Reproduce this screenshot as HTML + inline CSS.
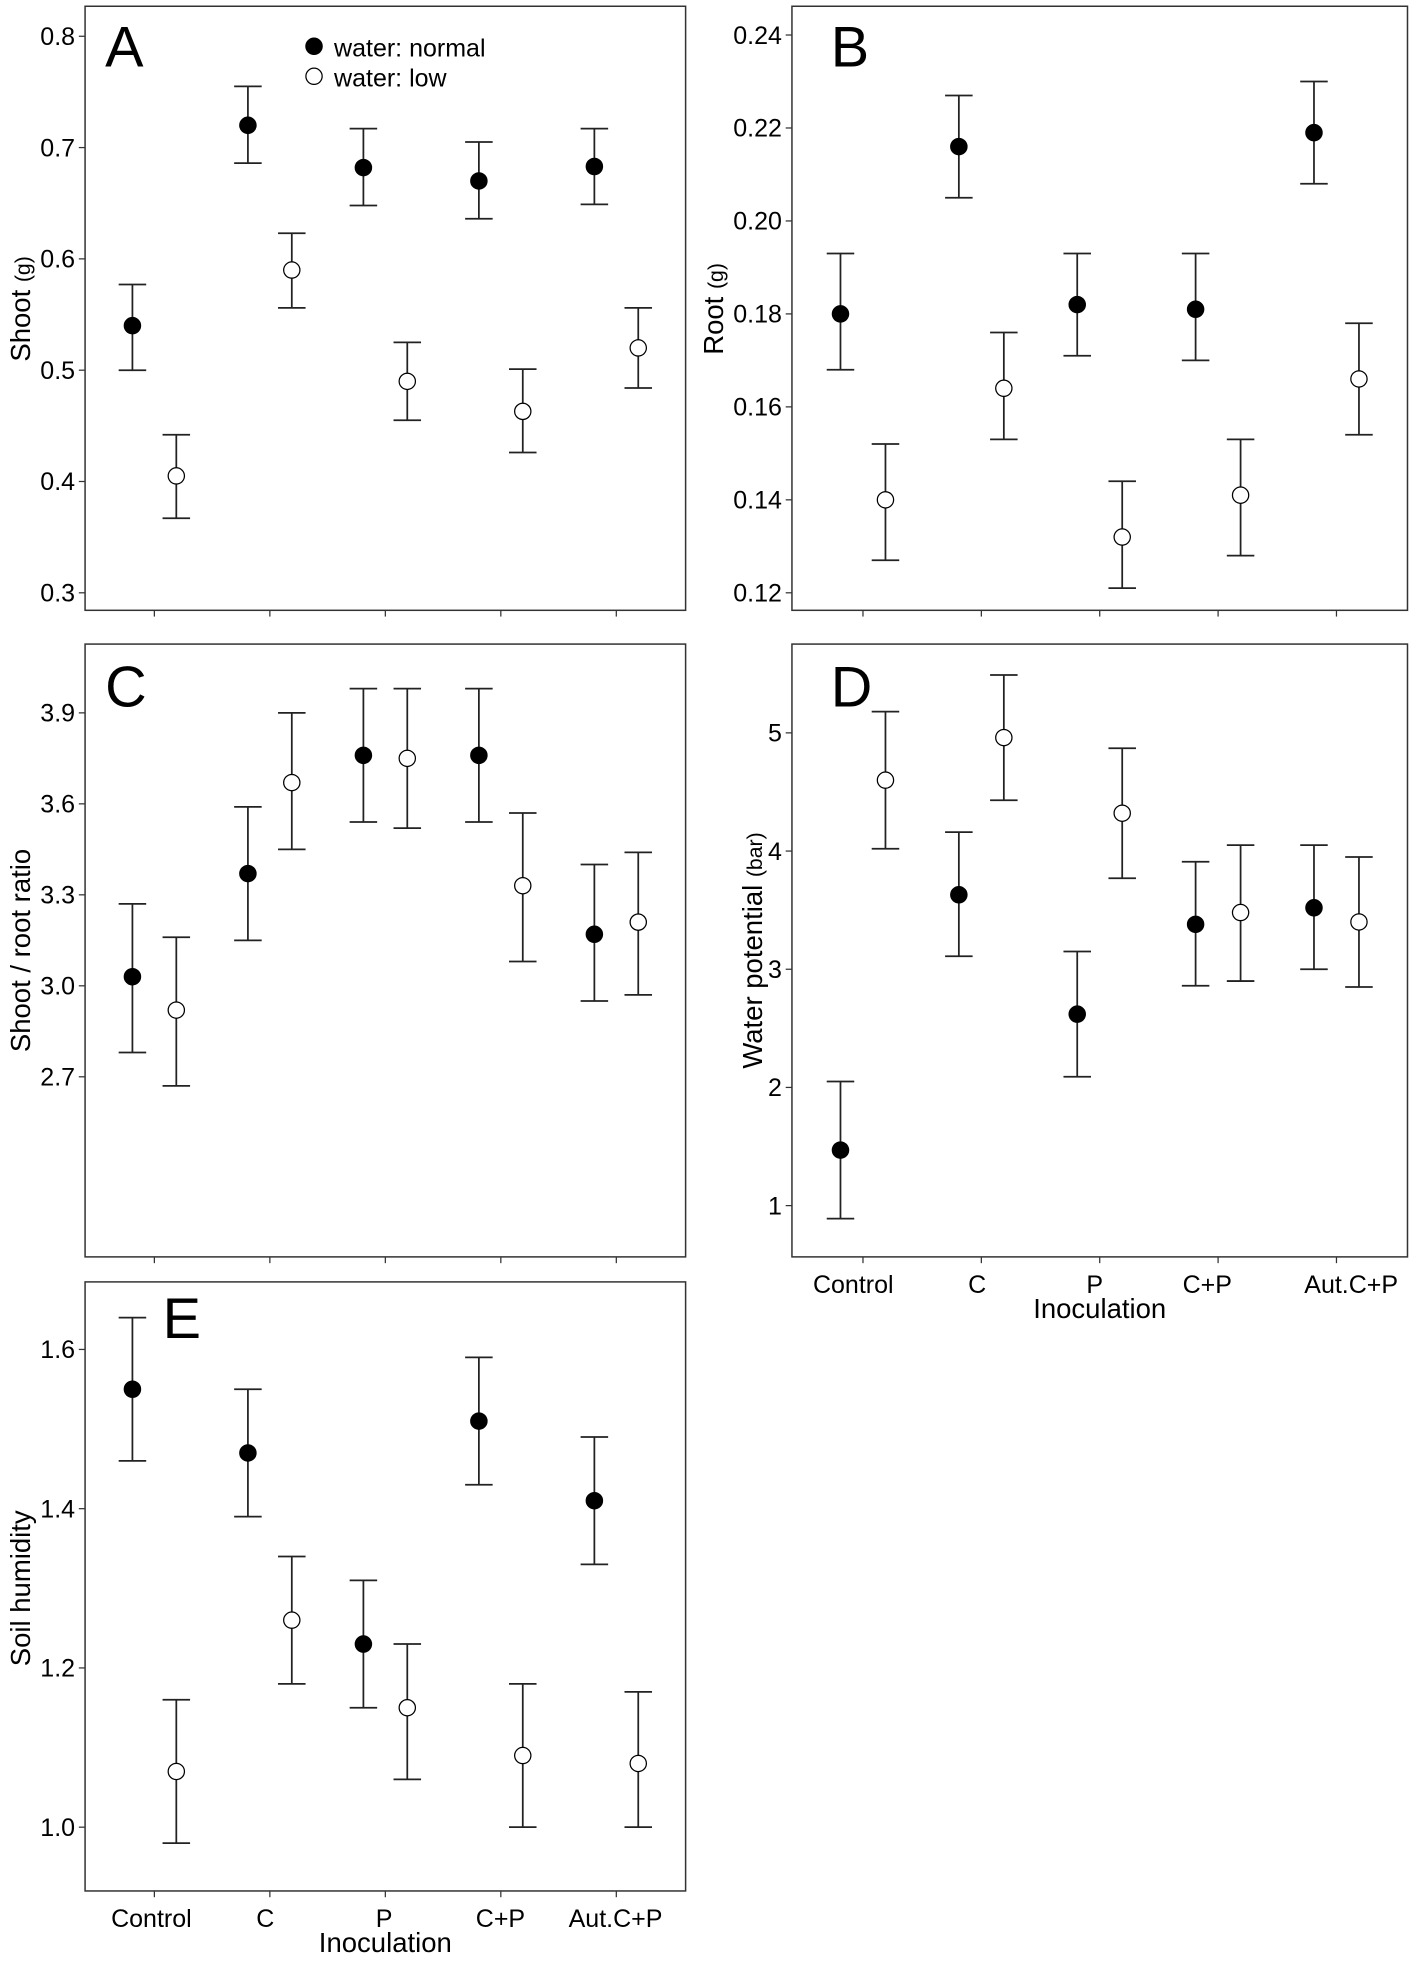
<!DOCTYPE html>
<html><head><meta charset="utf-8"><style>
html,body{margin:0;padding:0;background:#fff}
svg{display:block}
text{font-family:"Liberation Sans",Arial,sans-serif;fill:#000}
</style></head><body>
<svg id="fig" width="1415" height="1961" viewBox="0 0 1131 1568" preserveAspectRatio="none" xmlns="http://www.w3.org/2000/svg"></svg>
<script>
const categories = ["Control","C","P","C+P","Aut.C+P"];
// Panel A shoot (g)
const aNormal = [0.54,0.72,0.682,0.67,0.683];
const aNormalLo = [0.50,0.686,0.648,0.636,0.649];
const aNormalHi = [0.577,0.755,0.717,0.705,0.717];
const aLow = [0.405,0.59,0.49,0.463,0.52];
const aLowLo = [0.367,0.556,0.455,0.426,0.484];
const aLowHi = [0.442,0.623,0.525,0.501,0.556];
const aTicks = [0.3,0.4,0.5,0.6,0.7,0.8];
// Panel B root (g)
const bNormal = [0.180,0.216,0.182,0.181,0.219];
const bNormalLo = [0.168,0.205,0.171,0.170,0.208];
const bNormalHi = [0.193,0.227,0.193,0.193,0.230];
const bLow = [0.140,0.164,0.132,0.141,0.166];
const bLowLo = [0.127,0.153,0.121,0.128,0.154];
const bLowHi = [0.152,0.176,0.144,0.153,0.178];
const bTicks = [0.12,0.14,0.16,0.18,0.20,0.22,0.24];
// Panel C shoot/root ratio
const cNormal = [3.03,3.37,3.76,3.76,3.17];
const cNormalLo = [2.78,3.15,3.54,3.54,2.95];
const cNormalHi = [3.27,3.59,3.98,3.98,3.40];
const cLow = [2.92,3.67,3.75,3.33,3.21];
const cLowLo = [2.67,3.45,3.52,3.08,2.97];
const cLowHi = [3.16,3.90,3.98,3.57,3.44];
const cTicks = [2.7,3.0,3.3,3.6,3.9];
// Panel D water potential
const dNormal = [1.47,3.63,2.62,3.38,3.52];
const dNormalLo = [0.89,3.11,2.09,2.86,3.00];
const dNormalHi = [2.05,4.16,3.15,3.91,4.05];
const dLow = [4.60,4.96,4.32,3.48,3.40];
const dLowLo = [4.02,4.43,3.77,2.90,2.85];
const dLowHi = [5.18,5.49,4.87,4.05,3.95];
const dTicks = [1,2,3,4,5];
// Panel E soil humidity
const eNormal = [1.55,1.47,1.23,1.51,1.41];
const eNormalLo = [1.46,1.39,1.15,1.43,1.33];
const eNormalHi = [1.64,1.55,1.31,1.59,1.49];
const eLow = [1.07,1.26,1.15,1.09,1.08];
const eLowLo = [0.98,1.18,1.06,1.00,1.00];
const eLowHi = [1.16,1.34,1.23,1.18,1.17];
const eTicks = [1.0,1.2,1.4,1.6];

const NS="http://www.w3.org/2000/svg";
const svg=document.getElementById('fig');
function mk(tag,attrs,parent){const e=document.createElementNS(NS,tag);for(const k in attrs)e.setAttribute(k,attrs[k]);(parent||svg).appendChild(e);return e;}

function panel(cfg){
  const g=mk('g',{});
  
  
  const {x0,x1,y0,y1}=cfg;
  const yScale=v=>cfg.yA+(v-cfg.vA)*(cfg.yB-cfg.yA)/(cfg.vB-cfg.vA);
  const unit=(x1-x0)/5.2;
  const xScale=i=>x0+unit*(0.6+i);
  const frame=mk('rect',{x:x0,y:y0,width:x1-x0,height:y1-y0,fill:'none',stroke:'#333','stroke-width':1.2},g);
  
  
  cfg.ticks.forEach(t=>{
    const y=yScale(t);
    mk('line',{x1:x0-5,x2:x0,y1:y,y2:y,stroke:'#333','stroke-width':1},g);
    const tx=mk('text',{x:x0-8,y:y+7,'text-anchor':'end','font-size':20},g);
    tx.textContent=t.toFixed(cfg.dec);
    
    
  });
  categories.forEach((c,i)=>{
    const x=xScale(i);
    mk('line',{x1:x,x2:x,y1:y1,y2:y1+5,stroke:'#333','stroke-width':1},g);
    if(cfg.xlabels){
      const tx=mk('text',{x:cfg.labelX[i],y:y1+29,'text-anchor':'middle','font-size':20},g);
      tx.textContent=c;
      
      
    }
  });
  if(cfg.xlabels){
    const t=mk('text',{x:(x0+x1)/2,y:y1+49,'text-anchor':'middle','font-size':22},g);
    t.textContent='Inoculation';
    
    
  }
  const yt=mk('text',{x:0,y:0,'text-anchor':'middle','font-size':22,transform:`translate(${cfg.titleX},${cfg.titleY}) rotate(-90)`},g);
  
  
  const s1=mk('tspan',{},yt);s1.textContent=cfg.title;
  if(cfg.unit){const s2=mk('tspan',{'font-size':17},yt);s2.textContent=cfg.unit;}
  const L=mk('text',{x:cfg.lx,y:cfg.ly,'font-size':46},g);
  L.textContent=cfg.letter;
  
  
  const series=[[cfg.n,cfg.nLo,cfg.nHi,-1,'#000'],[cfg.l,cfg.lLo,cfg.lHi,1,'#fff']];
  series.forEach(([m,lo,hi,side,fill])=>{
    m.forEach((v,i)=>{
      const x=xScale(i)+side*0.19*unit;
      const yl=yScale(lo[i]),yh=yScale(hi[i]);
      const eb=mk('path',{d:`M${x},${yl}V${yh}M${x-11},${yl}H${x+11}M${x-11},${yh}H${x+11}`,stroke:'#222','stroke-width':1.4,fill:'none'},g);
      
      
      const pt=mk('circle',{cx:x,cy:yScale(v),r:6.5,fill:fill,stroke:'#000','stroke-width':1},g);
      
      
    });
  });
}
const eLabels=[121,212,307,400,492];
const dLabels=[682,781,875,965,1080];
panel({letter:'A',x0:68,x1:548,y0:5,y1:488,vA:0.8,yA:29,vB:0.3,yB:474,ticks:aTicks,dec:1,n:aNormal,nLo:aNormalLo,nHi:aNormalHi,l:aLow,lLo:aLowLo,lHi:aLowHi,title:'Shoot ',unit:'(g)',titleX:24,titleY:247,lx:84,ly:53});
panel({letter:'B',x0:633,x1:1125,y0:5,y1:488,vA:0.24,yA:28,vB:0.12,yB:474,ticks:bTicks,dec:2,n:bNormal,nLo:bNormalLo,nHi:bNormalHi,l:bLow,lLo:bLowLo,lHi:bLowHi,title:'Root ',unit:'(g)',titleX:578,titleY:247,lx:664,ly:53});
panel({letter:'C',x0:68,x1:548,y0:515,y1:1005,vA:3.9,yA:570,vB:2.7,yB:861,ticks:cTicks,dec:1,n:cNormal,nLo:cNormalLo,nHi:cNormalHi,l:cLow,lLo:cLowLo,lHi:cLowHi,title:'Shoot / root ratio',unit:'',titleX:24,titleY:760,lx:84,ly:565});
panel({letter:'D',x0:633,x1:1125,y0:515,y1:1005,vA:5,yA:586,vB:1,yB:964,ticks:dTicks,dec:0,n:dNormal,nLo:dNormalLo,nHi:dNormalHi,l:dLow,lLo:dLowLo,lHi:dLowHi,title:'Water potential ',unit:'(bar)',titleX:609,titleY:760,lx:664,ly:565,xlabels:true,labelX:dLabels});
panel({letter:'E',x0:68,x1:548,y0:1025,y1:1512,vA:1.6,yA:1079,vB:1.0,yB:1461,ticks:eTicks,dec:1,n:eNormal,nLo:eNormalLo,nHi:eNormalHi,l:eLow,lLo:eLowLo,lHi:eLowHi,title:'Soil humidity',unit:'',titleX:24,titleY:1270,lx:130,ly:1070,xlabels:true,labelX:eLabels});

// legend
const lg=mk('g',{});


const l1=mk('circle',{cx:251,cy:37,r:6.5,fill:'#000',stroke:'#000'},lg);


const t1=mk('text',{x:267,y:45,'font-size':20},lg);t1.textContent='water: normal';


const l2=mk('circle',{cx:251,cy:61,r:6.5,fill:'#fff',stroke:'#000'},lg);


const t2=mk('text',{x:267,y:69,'font-size':20},lg);t2.textContent='water: low';


</script>
</body></html>
